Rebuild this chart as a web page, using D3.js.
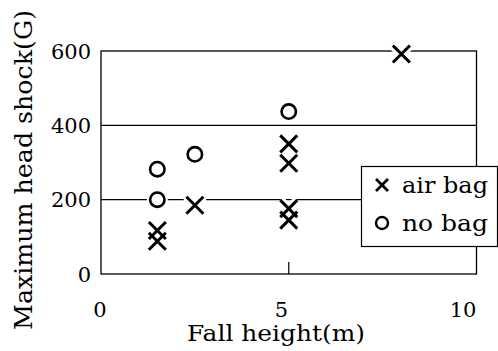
<!DOCTYPE html>
<html><head><meta charset="utf-8">
<script src="https://cdn.jsdelivr.net/npm/d3@7"></script>
<style>body{margin:0;background:#fff}svg{display:block}</style>
</head><body>
<svg id="c" width="498" height="351"></svg>
<script>
const airBagX = [1.5, 1.5, 2.5, 5, 5, 5, 5, 8];
const airBagY = [117, 88, 185, 350, 298, 176, 145, 592];
const noBagX = [1.5, 1.5, 2.5, 5];
const noBagY = [282, 200, 322, 437];
const xTicks = [0, 5, 10];
const yTicks = [0, 200, 400, 600];
const gridValues = [200, 400];
const xTitle = "Fall height(m)";
const yTitle = "Maximum head shock(G)";
const legendLabels = ["air bag", "no bag"];

const svg = d3.select("#c");
const font = "'DejaVu Serif', serif";
const x = d3.scaleLinear().domain([0, 10]).range([101, 476.5]);
const y = d3.scaleLinear().domain([0, 600]).range([274, 51]);
const xLabel = d3.scaleLinear().domain([0, 10]).range([100, 463]);

// gridlines
svg.append("g").selectAll("line").data(gridValues).join("line")
  .attr("x1", x(0)).attr("x2", x(10))
  .attr("y1", d => y(d)).attr("y2", d => y(d))
  .attr("stroke", "#000").attr("stroke-width", 1.1);

// frame
svg.append("rect").attr("x", x(0)).attr("y", y(600))
  .attr("width", x(10) - x(0)).attr("height", y(0) - y(600))
  .attr("fill", "none").attr("stroke", "#000").attr("stroke-width", 1.3);

// inner tick at 5
svg.append("line").attr("x1", x(5)).attr("x2", x(5))
  .attr("y1", y(0)).attr("y2", y(0) - 12).attr("stroke", "#000").attr("stroke-width", 1.2);

// y tick labels
svg.append("g").selectAll("text").data(yTicks).join("text")
  .attr("x", 91).attr("y", d => y(d)).attr("dy", "0.36em")
  .attr("text-anchor", "end").attr("font-family", font).attr("font-size", 21)
  .text(d => d);

// x tick labels
svg.append("g").selectAll("text").data(xTicks).join("text")
  .attr("x", d => xLabel(d)).attr("y", 317)
  .attr("text-anchor", "middle").attr("font-family", font).attr("font-size", 21)
  .text(d => d);

// titles
svg.append("text").attr("x", 276).attr("y", 341)
  .attr("text-anchor", "middle").attr("font-family", font).attr("font-size", 22.5)
  .attr("textLength", 178).attr("lengthAdjust", "spacingAndGlyphs")
  .text(xTitle);
svg.append("text").attr("transform", "translate(32,170) rotate(-90)")
  .attr("text-anchor", "middle").attr("font-family", font).attr("font-size", 25)
  .attr("textLength", 320).attr("lengthAdjust", "spacingAndGlyphs")
  .text(yTitle);

// markers
const S = 8.5;
const crossPath = (cx, cy, s) => `M${cx - s},${cy - s}L${cx + s},${cy + s}M${cx - s},${cy + s}L${cx + s},${cy - s}`;
const mk = svg.append("g");
noBagX.forEach((d, i) => {
  mk.append("circle").attr("cx", x(d)).attr("cy", y(noBagY[i])).attr("r", 10.5).attr("fill", "#fff");
});
airBagX.forEach((d, i) => {
  mk.append("path").attr("d", crossPath(x(d), y(airBagY[i]), S))
    .attr("stroke", "#fff").attr("stroke-width", 9).attr("fill", "none");
});
noBagX.forEach((d, i) => {
  mk.append("circle").attr("cx", x(d)).attr("cy", y(noBagY[i])).attr("r", 7.2)
    .attr("fill", "none").attr("stroke", "#000").attr("stroke-width", 2.6);
});
airBagX.forEach((d, i) => {
  mk.append("path").attr("d", crossPath(x(d), y(airBagY[i]), S))
    .attr("stroke", "#000").attr("stroke-width", 3).attr("fill", "none");
});

// legend
const lg = svg.append("g");
lg.append("rect").attr("x", 361.5).attr("y", 166.5).attr("width", 136).attr("height", 80)
  .attr("fill", "#fff").attr("stroke", "#000").attr("stroke-width", 1.2);
const rowY = [185, 223];
lg.append("path").attr("d", crossPath(382, rowY[0], 6))
  .attr("stroke", "#000").attr("stroke-width", 2.8).attr("fill", "none");
lg.append("circle").attr("cx", 382).attr("cy", rowY[1]).attr("r", 6)
  .attr("fill", "none").attr("stroke", "#000").attr("stroke-width", 2.4);
lg.selectAll("text.l").data(legendLabels).join("text").attr("class", "l")
  .attr("x", 402).attr("y", (d, i) => rowY[i]).attr("dy", "0.34em")
  .attr("font-family", font).attr("font-size", 23)
  .attr("textLength", 86).attr("lengthAdjust", "spacingAndGlyphs")
  .text(d => d);
</script>
</body></html>
